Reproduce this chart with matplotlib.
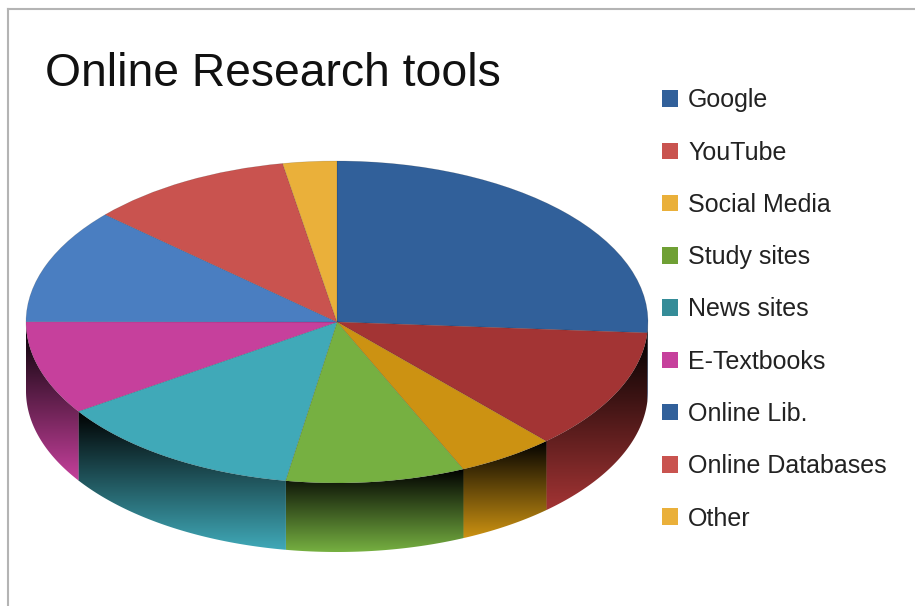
import numpy as np
import matplotlib
matplotlib.use("Agg")
import matplotlib.pyplot as plt
from matplotlib.lines import Line2D
from matplotlib.patches import Patch, Polygon

W, H = 915, 606

title = "Online Research tools"
categories = ["Google", "YouTube", "Social Media", "Study sites", "News sites",
              "E-Textbooks", "Online Lib.", "Online Databases", "Other"]
shares = [26.1, 12.2, 5.1, 9.3, 13.0, 9.4, 11.6, 10.6, 2.8]
face_colors = ["#31609A", "#A33434", "#CC9212", "#76B041", "#40A9B8",
               "#C6409C", "#4A7EC1", "#C9534F", "#EAB03A"]
legend_colors = ["#31609A", "#C9534F", "#EAB03A", "#6FA034", "#358C98",
                 "#C6409C", "#31609A", "#C9534F", "#EAB03A"]

plt.rcParams["font.family"] = ["Liberation Sans", "DejaVu Sans"]

# Pie centre and semi-axes in pixels; the axes fill the figure so one data
# unit is one semi-axis of the tilted disc.
cx, cy, rx, ry, depth_px = 337, 322, 311, 161, 69

fig = plt.figure(figsize=(W / 100, H / 100), dpi=100, facecolor="white")
ax = fig.add_axes([0, 0, 1, 1])

wedges, _ = ax.pie(shares, colors=face_colors, startangle=90, counterclock=False,
                   radius=1, wedgeprops={"linewidth": 0.4, "edgecolor": "#00000030", "zorder": 3})

depth = depth_px / ry
for i, (wedge, color) in enumerate(zip(wedges, face_colors)):
    # Only the front half of the rim is visible.
    lo, hi = max(wedge.theta1, -180), min(wedge.theta2, 0)
    if wedge.theta1 > 180 or hi <= lo:
        continue
    # A hair of overlap with the previous wall closes the seam between clip edges.
    hi_edge = hi + 0.08 if i > 0 and hi < 0 else hi
    t = np.radians(np.linspace(lo, hi_edge, 120))
    xs, ys = np.cos(t), np.sin(t)
    outline = np.column_stack([np.r_[xs, xs[::-1]], np.r_[ys, ys[::-1] - depth]])
    rgb = np.array(matplotlib.colors.to_rgb(color))
    ramp = np.linspace(0, 1, 256)[:, None, None] * rgb[None, None, :]
    img = ax.imshow(ramp, aspect="auto", origin="upper", zorder=1 + i * 0.01,
                    interpolation="bilinear",
                    extent=(outline[:, 0].min(), outline[:, 0].max(),
                            outline[:, 1].min(), outline[:, 1].max()))
    img.set_clip_path(Polygon(outline, closed=True, transform=ax.transData))

ax.set_aspect("auto")
ax.set_xlim(-cx / rx, (W - cx) / rx)
ax.set_ylim((cy - H) / ry, cy / ry)
ax.axis("off")

# Chart frame: only the top and left borders fall inside the canvas.
frame = dict(color="#B4B4B4", linewidth=1.5, transform=fig.transFigure)
fig.add_artist(Line2D([8 / W, 1], [1 - 8.5 / H, 1 - 8.5 / H], **frame))
fig.add_artist(Line2D([8 / W, 8 / W], [0, 1 - 8.5 / H], **frame))

fig.text(45 / W, 1 - 86 / H, title, fontsize=33.3, color="#111111", ha="left", va="baseline")

handles = [Patch(facecolor=c, edgecolor="none") for c in legend_colors]
fig.legend(handles, categories, loc="upper left", bbox_to_anchor=(662 / W, 1 - 88.5 / H),
           frameon=False, fontsize=18, labelcolor="#222222", borderpad=0, borderaxespad=0,
           handlelength=16 / 25, handleheight=16 / 25, handletextpad=10 / 25,
           labelspacing=1.13)

fig.savefig("out.png", dpi=100)
